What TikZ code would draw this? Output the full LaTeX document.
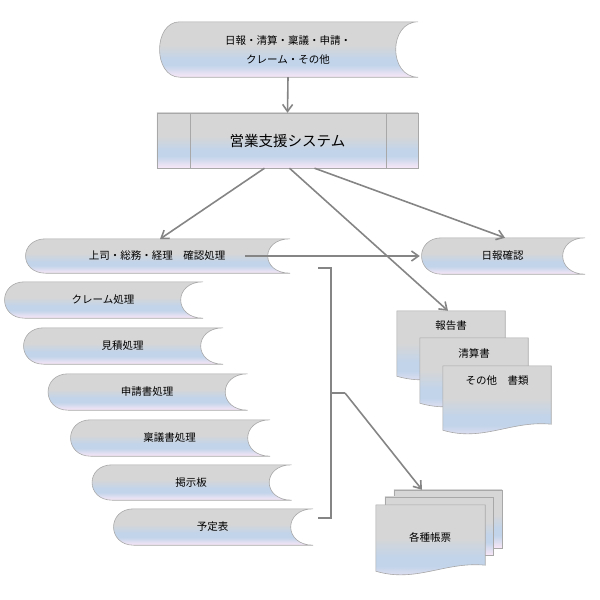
\documentclass[tikz,border=0pt]{standalone}
\usepackage{fontspec}
\setmainfont{Noto Sans CJK JP}
\usetikzlibrary{arrows.meta}
\pgfdeclarelayer{bg}
\pgfsetlayers{bg,main}
\definecolor{gtop}{HTML}{D6D6D6}
\definecolor{gmid}{HTML}{C2D4EA}
\definecolor{gbot}{HTML}{F4E6F6}
\definecolor{lnc}{HTML}{A8A8A8}
\definecolor{arc}{HTML}{858585}
\pgfdeclareverticalshading{gb}{100bp}{color(0bp)=(gbot);color(26bp)=(gbot);color(36bp)=(gmid);color(42bp)=(gmid);color(54bp)=(gtop);color(100bp)=(gtop)}
\tikzset{
 box/.style={inner sep=0pt,minimum width=#1,font=\fontsize{10.5}{12}\selectfont},
 shp/.style={shading=gb,draw=lnc,line width=0.6pt},
 arr/.style={draw=arc,line width=1.6pt,-{Straight Barb[length=7pt,width=10pt]}},
 lab/.style={inner sep=0pt,font=\fontsize{10.5}{12}\selectfont}
}
\newcommand\sdshape[1]{\path[shp] (#1.north east) -- ([xshift=22pt]#1.north west) .. controls ([xshift=-5pt]#1.north west) and ([xshift=-5pt]#1.south west) .. ([xshift=22pt]#1.south west) -- (#1.south east) .. controls ([xshift=-30pt]#1.south east) and ([xshift=-30pt]#1.north east) .. cycle;}
\newcommand\docshape[1]{\path[shp] (#1.north west) -- (#1.north east) -- ([yshift=12pt]#1.south east) .. controls ([xshift=-40pt,yshift=16pt]#1.south east) and ([xshift=40pt,yshift=-6pt]#1.south west) .. ([yshift=6pt]#1.south west) -- cycle;}
\begin{document}
\begin{tikzpicture}[x=1pt,y=-1pt]
\useasboundingbox (0,0) rectangle (600,600);
% nodes
\node[box=260pt,minimum height=55pt,align=center] (top) at (288,49.5) {日報・清算・稟議・申請・\\[7pt]クレーム・その他};
\node[box=261pt,minimum height=55pt,font=\fontsize{14.5}{16}\selectfont] (sys) at (287.5,140.5) {営業支援システム};
\node[box=266pt,minimum height=34pt] (s1) at (157,256) {上司・総務・経理\quad 確認処理};
\node[box=200pt,minimum height=36pt] (s2) at (103,300) {クレーム処理};
\node[box=201pt,minimum height=36pt] (s3) at (122.5,346) {見積処理};
\node[box=201pt,minimum height=36pt] (s4) at (147,392) {申請書処理};
\node[box=201pt,minimum height=36pt] (s5) at (169.5,438) {稟議書処理};
\node[box=201pt,minimum height=35pt] (s6) at (191,482.5) {掲示板};
\node[box=201pt,minimum height=36pt] (s7) at (212.5,527) {予定表};
\node[box=165pt,minimum height=36pt] (nk) at (502.5,256) {日報確認};
\node[box=108pt,minimum height=71pt] (d1) at (451,346.5) {};
\node[box=108pt,minimum height=71pt] (d2) at (474,373.5) {};
\node[box=108pt,minimum height=70pt] (d3) at (497,401) {};
\node[lab] (t1) at (451,326) {報告書};
\node[lab] (t2) at (474,353) {清算書};
\node[lab] (t3) at (497,381) {その他\quad 書類};
\node[box=108pt,minimum height=58pt] (m1) at (448,519) {};
\node[box=108pt,minimum height=58pt] (m2) at (439,526) {};
\node[box=109pt,minimum height=72pt] (m3) at (430.5,541) {};
\node[lab] (tm) at (430,537) {各種帳票};
\begin{pgfonlayer}{bg}
\sdshape{top}
\path[shp] (sys.north west) rectangle (sys.south east);
\draw[lnc,line width=0.6pt] (190,113) -- (190,168) (386,113) -- (386,168);
\foreach \n in {s1,s2,s3,s4,s5,s6,s7,nk} {\sdshape{\n}}
\docshape{d1}\docshape{d2}\docshape{d3}
\path[shp] (m1.north west) rectangle (m1.south east);
\path[shp] (m2.north west) rectangle (m2.south east);
\docshape{m3}
\end{pgfonlayer}
% connectors
\coordinate (bt) at (345,393);
\draw[arr] (top.south) -- (sys.north);
\draw[arr] ([xshift=-23pt]sys.south) -- (160,239);
\draw[arr] ([xshift=2pt]sys.south) -- ([xshift=-3pt]d1.north);
\draw[arr] ([xshift=27pt]sys.south) -- ([xshift=2.5pt]nk.north);
\draw[arr] ([xshift=-45pt]s1.east) -- (nk.west);
\draw[arc,line width=1.6pt] (318,268) -- (331,268) -- (331,518) -- (318,518) (331,393) -- (bt);
\draw[arr] (bt) -- ([xshift=-26pt]m1.north);
\end{tikzpicture}
\end{document}
